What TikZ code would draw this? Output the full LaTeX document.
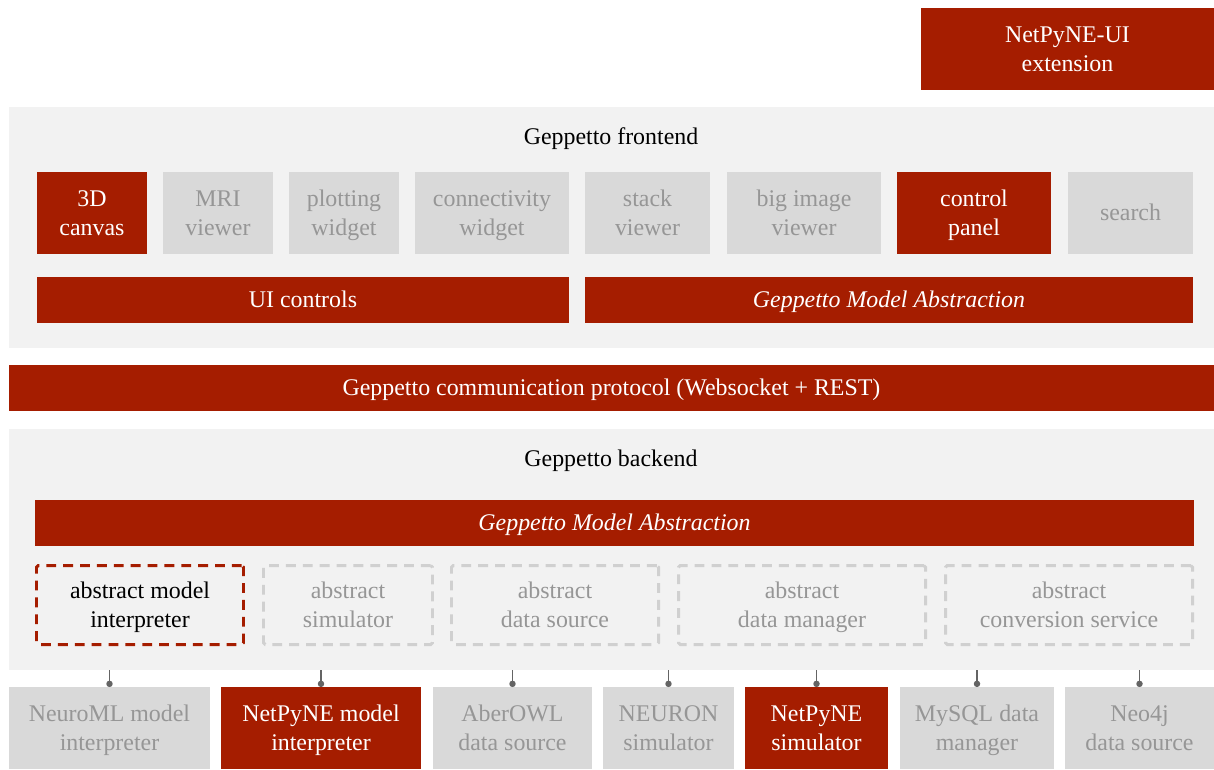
\documentclass[tikz,border=0pt]{standalone}
\usepackage{fontspec}
\setmainfont{Liberation Serif}
\usetikzlibrary{arrows.meta}
\definecolor{gred}{RGB}{165,29,0}
\definecolor{panelgray}{RGB}{242,242,242}
\definecolor{boxgray}{RGB}{217,217,217}
\definecolor{textgray}{RGB}{150,150,150}
\definecolor{dashgray}{RGB}{208,208,208}
\definecolor{conngray}{RGB}{100,100,100}
\newcommand\topstrut{\rule{0pt}{14pt}}
\newcommand\botstrut{\rule[-5pt]{0pt}{5pt}}
\newcommand\twoline[2]{\topstrut#1\\#2\botstrut}
\tikzset{
    wh/.style 2 args={minimum width=#1*0.02cm, minimum height=#2*0.02cm},
    panel/.style={fill=panelgray},
    redbox/.style={fill=gred, text=white},
    greybox/.style={fill=boxgray, text=textgray},
    absbox/.style={draw=dashgray, line width=1.7pt, dash pattern=on 5.6pt off 4pt, rounded corners=1pt, text=textgray},
    absred/.style={absbox, draw=gred, text=black},
    conn/.style={draw=conngray, line width=1.1pt, -{Circle[length=3.6pt]}}
}
\begin{document}
\begin{tikzpicture}[x=0.02cm, y=-0.02cm,
    every node/.style={font=\rmfamily\fontsize{13.6}{16.6}\selectfont, align=center, inner sep=0pt, outer sep=0pt,
        execute at begin node=\topstrut, execute at end node=\botstrut}]
    \useasboundingbox[fill=white] (0,0) rectangle (1214,769);
    \node[redbox, wh={293}{82}] (ext) at (1067.5,49) {\twoline{NetPyNE-UI}{extension}};
    \node[panel, wh={1205}{241}] (frontend) at (611.5,227.5) {};
    \node (fetitle) at (611,137) {Geppetto frontend};
    \node[redbox, wh={110}{82}] (canvas) at (92,213) {\twoline{3D}{canvas}};
    \node[greybox, wh={110}{82}] (mri) at (218,213) {\twoline{MRI}{viewer}};
    \node[greybox, wh={110}{82}] (plot) at (344,213) {\twoline{plotting}{widget}};
    \node[greybox, wh={154}{82}] (connect) at (492,213) {\twoline{connectivity}{widget}};
    \node[greybox, wh={125}{82}] (stack) at (647.5,213) {\twoline{stack}{viewer}};
    \node[greybox, wh={154}{82}] (bigimg) at (804,213) {\twoline{big image}{viewer}};
    \node[redbox, wh={154}{82}] (control) at (974,213) {\twoline{control}{panel}};
    \node[greybox, wh={125}{82}] (search) at (1130.5,213) {search};
    \node[redbox, wh={532}{46}] (uictrl) at (303,300) {UI controls};
    \node[redbox, wh={608}{46}] (feabs) at (889,300) {\itshape Geppetto Model Abstraction};
    \node[redbox, wh={1205}{46}] (proto) at (611.5,388) {Geppetto communication protocol (Websocket + REST)};
    \node[panel, wh={1205}{241}] (backend) at (611.5,549.5) {};
    \node (betitle) at (611,459) {Geppetto backend};
    \node[redbox, wh={1159}{46}] (beabs) at (614.5,523) {\itshape Geppetto Model Abstraction};
    \node[absred, wh={207}{79}] (absmodel) at (140,605) {\twoline{abstract model}{interpreter}};
    \node[absbox, wh={169}{79}] (abssim) at (348,605) {\twoline{abstract}{simulator}};
    \node[absbox, wh={207}{79}] (absdata) at (555,605) {\twoline{abstract}{data source}};
    \node[absbox, wh={247}{79}] (absmgr) at (802,605) {\twoline{abstract}{data manager}};
    \node[absbox, wh={247}{79}] (absconv) at (1069,605) {\twoline{abstract}{conversion service}};
    \node[greybox, wh={201}{82}] (neuroml) at (109.5,728) {\twoline{NeuroML model}{interpreter}};
    \node[redbox, wh={200}{82}] (netmodel) at (321,728) {\twoline{NetPyNE model}{interpreter}};
    \node[greybox, wh={159}{82}] (aberowl) at (512.5,728) {\twoline{AberOWL}{data source}};
    \node[greybox, wh={131}{82}] (neuron) at (668.5,728) {\twoline{NEURON}{simulator}};
    \node[redbox, wh={143}{82}] (netsim) at (816.5,728) {\twoline{NetPyNE}{simulator}};
    \node[greybox, wh={154}{82}] (mysql) at (977,728) {\twoline{MySQL data}{manager}};
    \node[greybox, wh={149}{82}] (neo) at (1139.5,728) {\twoline{Neo4j}{data source}};
    \foreach \n in {neuroml,netmodel,aberowl,neuron,netsim,mysql,neo}
        \draw[conn] (\n.north |- backend.south) -- (\n.north);
\end{tikzpicture}
\end{document}
